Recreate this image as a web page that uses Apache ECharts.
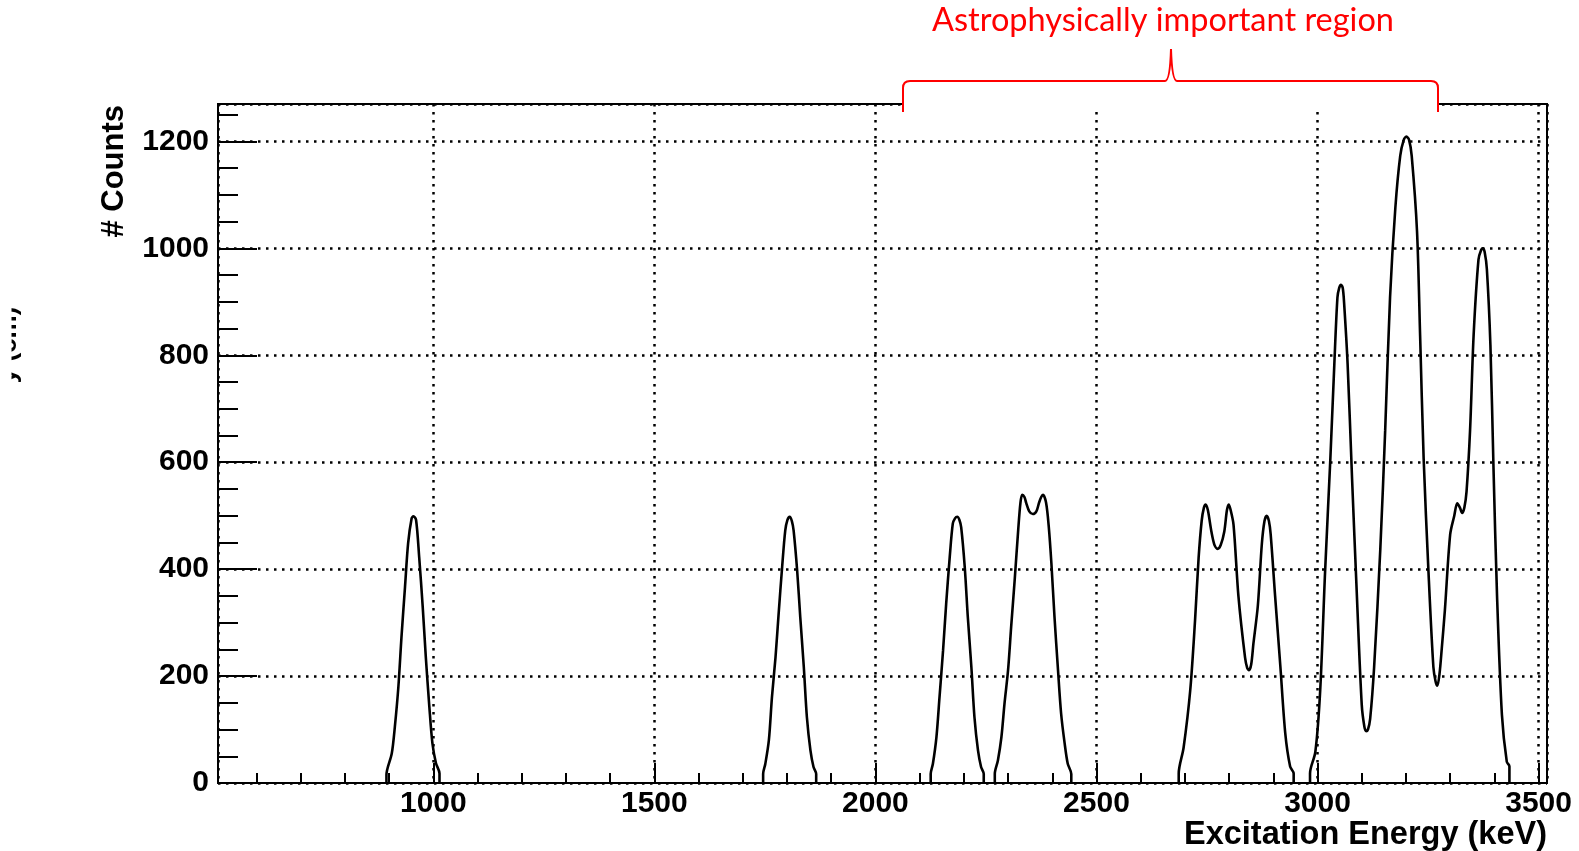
<!DOCTYPE html>
<html>
<head>
<meta charset="utf-8">
<script src="https://cdn.jsdelivr.net/npm/echarts@6/dist/echarts.min.js"></script>
<style>
html,body{margin:0;padding:0;background:#fff;}
#chart{width:1579px;height:851px;}
</style>
</head>
<body>
<div id="chart"></div>
<script>
// Excitation energy (keV), counts, one list per cluster
const clusterA = [[894,0],[894,15],[906,55],[913,105],[921,180],[928,273],[936,367],[943,448],[951,495],[955,499],[961,492],[968,423],[976,330],[983,236],[991,143],[998,74],[1006,37],[1014,18],[1014,0]];
const clusterB = [[1746,0],[1746,17],[1751,36],[1759,80],[1766,161],[1774,235],[1781,316],[1789,404],[1796,472],[1801,492],[1806,498],[1811,490],[1815,472],[1823,397],[1830,310],[1838,217],[1845,123],[1853,61],[1860,30],[1866,17],[1866,0]];
const clusterC = [[2125,0],[2125,17],[2130,36],[2138,86],[2145,161],[2153,248],[2160,335],[2168,422],[2175,485],[2180,495],[2185,498],[2190,492],[2194,478],[2202,404],[2209,310],[2217,217],[2224,123],[2232,61],[2239,30],[2245,17],[2245,0]];
const clusterD = [[2270,0],[2270,17],[2277,42],[2285,86],[2292,149],[2300,211],[2307,292],[2315,380],[2323,474],[2328,524],[2332,539],[2337,535],[2341,524],[2348,508],[2356,503],[2364,508],[2370,524],[2375,535],[2379,539],[2386,524],[2392,480],[2398,411],[2405,311],[2413,211],[2420,130],[2428,74],[2435,36],[2443,17],[2443,0]];
const clusterE = [[2686,0],[2686,18],[2697,66],[2712,173],[2723,305],[2731,421],[2738,491],[2743,515],[2747,521],[2752,510],[2760,470],[2767,445],[2774,438],[2781,445],[2789,470],[2795,510],[2799,521],[2803,512],[2810,483],[2821,350],[2836,235],[2841,215],[2845,211],[2850,222],[2855,261],[2865,332],[2874,447],[2880,490],[2885,500],[2890,490],[2894,465],[2904,350],[2916,217],[2927,93],[2938,31],[2946,18],[2946,0]];
const clusterF = [[2983,0],[2983,18],[2995,58],[3006,173],[3017,394],[3029,607],[3038,784],[3045,908],[3049,926],[3053,932],[3057,926],[3060,899],[3068,784],[3078,571],[3089,350],[3100,146],[3106,105],[3110,97],[3114,100],[3119,120],[3128,217],[3142,438],[3153,660],[3164,908],[3176,1076],[3187,1173],[3195,1203],[3201,1209],[3207,1203],[3213,1173],[3225,1032],[3232,837],[3240,607],[3251,394],[3262,217],[3267,190],[3271,182],[3276,205],[3281,252],[3288,323],[3300,465],[3309,499],[3316,523],[3322,515],[3327,505],[3332,515],[3337,545],[3345,660],[3353,837],[3364,979],[3370,997],[3374,1000],[3378,993],[3383,961],[3391,819],[3398,589],[3406,350],[3417,128],[3428,40],[3434,31],[3434,0]];
const clusters = [clusterA, clusterB, clusterC, clusterD, clusterE, clusterF];

const xRange = [513, 3519];
const yRange = [0, 1270];
const yStep = 200;

const xTitle = 'Excitation Energy (keV)';
const yTitle = '# Counts';
const cutTitle = 'y (cm)';
const regionLabel = 'Astrophysically important region';

const lineData = [];
clusters.forEach((c, i) => {
  if (i > 0) lineData.push(null);
  c.forEach(p => lineData.push(p));
});

const AX = 'Liberation Sans, Arial, Helvetica, sans-serif';
const chart = echarts.init(document.getElementById('chart'), null, {renderer: 'canvas'});
const dots = {color: '#000', width: 2.5, type: [2.5, 5.5]};
const red = {stroke: '#ff0000', lineWidth: 2, fill: null};
const plain = v => String(v);

function seg(x1, y1, x2, y2) { return {type: 'line', z: 101, shape: {x1, y1, x2, y2}, style: red}; }
function curve(x1, y1, cx, cy, x2, y2) { return {type: 'bezierCurve', z: 101, shape: {x1, y1, x2, y2, cpx1: cx, cpy1: cy}, style: red}; }

chart.setOption({
  animation: false,
  backgroundColor: '#fff',
  grid: {left: 218, right: 32, top: 104, bottom: 68, show: true, borderColor: '#000', borderWidth: 2, backgroundColor: 'transparent'},
  xAxis: {
    type: 'value', min: xRange[0], max: xRange[1], splitNumber: 6,
    axisLine: {show: true, onZero: false, lineStyle: {color: '#000', width: 2}},
    axisTick: {show: true, inside: true, length: 20, lineStyle: {color: '#000', width: 2}},
    minorTick: {show: true, splitNumber: 5, length: 10, lineStyle: {color: '#000', width: 2}},
    axisLabel: {color: '#000', fontFamily: AX, fontWeight: 'bold', fontSize: 30, margin: 6, showMinLabel: false, showMaxLabel: false, formatter: plain},
    splitLine: {show: true, lineStyle: dots},
    minorSplitLine: {show: false}
  },
  yAxis: {
    type: 'value', min: yRange[0], max: yRange[1], interval: yStep,
    axisLine: {show: true, lineStyle: {color: '#000', width: 2}},
    axisTick: {show: true, inside: true, length: 39, lineStyle: {color: '#000', width: 2}},
    minorTick: {show: true, splitNumber: 4, length: 20, lineStyle: {color: '#000', width: 2}},
    axisLabel: {color: '#000', fontFamily: AX, fontWeight: 'bold', fontSize: 30, margin: 9, showMaxLabel: false, formatter: plain},
    splitLine: {show: true, lineStyle: dots},
    minorSplitLine: {show: false}
  },
  series: [{
    type: 'line', data: lineData, showSymbol: false, connectNulls: false,
    smooth: 0.3, clip: true,
    lineStyle: {color: '#000', width: 2.6}
  }],
  graphic: [
    {type: 'rect', z: 100, shape: {x: 904, y: 99, width: 533, height: 9}, style: {fill: '#fff'}},
    seg(903, 112, 903, 88),
    curve(903, 88, 903, 81, 910, 81),
    seg(910, 81, 1165, 81),
    curve(1165, 81, 1170, 81, 1171, 49),
    curve(1171, 49, 1172, 81, 1177, 81),
    seg(1177, 81, 1431, 81),
    curve(1431, 81, 1438, 81, 1438, 88),
    seg(1438, 88, 1438, 112),
    {type: 'text', z: 101, x: 1163, y: 21, style: {text: regionLabel, fill: '#ff0000', font: '32.5px Lato, "Open Sans", sans-serif', align: 'center', verticalAlign: 'middle'}},
    {type: 'text', z: 101, x: 1547, y: 835, style: {text: xTitle, fill: '#000', font: 'bold 32.5px ' + AX, align: 'right', verticalAlign: 'middle'}},
    {type: 'text', z: 101, x: 114.5, y: 105, rotation: Math.PI / 2, style: {text: yTitle, fill: '#000', font: 'bold 31px ' + AX, align: 'right', verticalAlign: 'middle'}},
    {type: 'text', z: 101, x: 9, y: 345, rotation: Math.PI / 2, style: {text: cutTitle, fill: '#000', font: 'bold 26px ' + AX, align: 'center', verticalAlign: 'middle'}},
    {type: 'rect', z: 102, shape: {x: 0, y: 0, width: 11.5, height: 851}, style: {fill: '#fff'}}
  ]
});
</script>
</body>
</html>
